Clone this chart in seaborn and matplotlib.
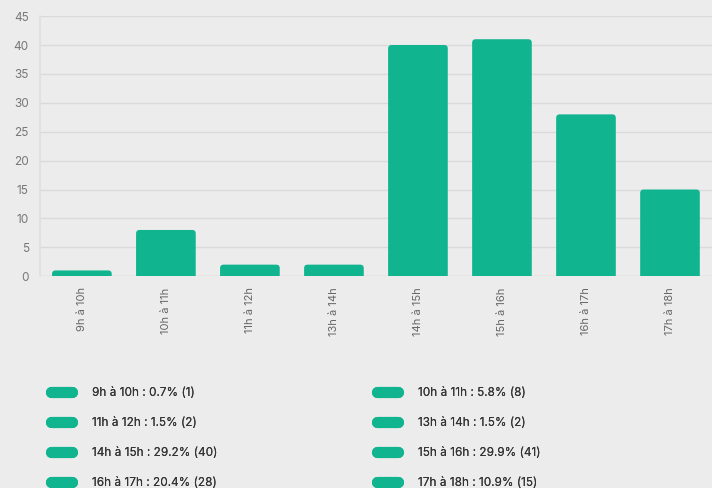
import matplotlib
matplotlib.use("Agg")
import matplotlib.pyplot as plt
from matplotlib.patches import FancyBboxPatch
from matplotlib.lines import Line2D
import seaborn as sns
import pandas as pd

# data
slots = ["9h à 10h", "10h à 11h", "11h à 12h", "13h à 14h",
         "14h à 15h", "15h à 16h", "16h à 17h", "17h à 18h"]
counts = [1, 8, 2, 2, 40, 41, 28, 15]
percents = ["0.7%", "5.8%", "1.5%", "1.5%", "29.2%", "29.9%", "20.4%", "10.9%"]

bg = "#ececec"
green = "#10b48f"
grid_c = "#dadada"

sns.set_theme(style="white")
plt.rcParams["font.family"] = ["Inter", "DejaVu Sans"]

df = pd.DataFrame({"slot": slots, "count": counts})

fig = plt.figure(figsize=(7.12, 4.88), dpi=100, facecolor=bg)
ax = fig.add_axes([0.056, 0.434, 0.944, 0.533], facecolor=bg)

sns.barplot(data=df, x="slot", y="count", color=green, width=0.71,
            saturation=1, ax=ax, zorder=3)

# swap plain bars for ones with rounded tops (bottom hidden below y=0)
r_px = 3.5
x_per_px = 8 / (0.944 * 712)
y_per_px = 45 / (0.533 * 488)
for p in list(ax.patches):
    x, w, h = p.get_x(), p.get_width(), p.get_height()
    ext = r_px * y_per_px
    fb = FancyBboxPatch((x, -ext), w, h + ext,
                        boxstyle=f"round,pad=0,rounding_size={r_px * x_per_px}",
                        mutation_aspect=y_per_px / x_per_px,
                        facecolor=green, edgecolor="none", zorder=3)
    ax.add_patch(fb)
    p.remove()

ax.set_ylim(0, 45)
ax.set_xlim(-0.5, 7.5)
ax.set_yticks(range(0, 46, 5))
ax.yaxis.grid(True, color=grid_c, lw=1)
ax.set_axisbelow(True)
for s in ["top", "right", "bottom"]:
    ax.spines[s].set_visible(False)
ax.spines["left"].set_color("#e0e0e0")
ax.axhline(0, color="#e2d6d6", lw=1, zorder=2)
ax.set_xlabel("")
ax.set_ylabel("")
ax.tick_params(axis="y", length=5, color=grid_c, labelsize=8.5, labelcolor="#777777", pad=3)
ax.tick_params(axis="x", length=0, labelsize=8, labelcolor="#666666", pad=8)
plt.setp(ax.get_xticklabels(), rotation=90)

# legend in two columns, pill-shaped markers
labels = [f"{s} : {p} ({c})" for s, p, c in zip(slots, percents, counts)]
handles = [Line2D([0], [0], color=green, lw=8, solid_capstyle="round") for _ in labels]

for col, x0 in [(0, 0.071), (1, 0.529)]:
    idx = list(range(col, 8, 2))
    leg = fig.legend([handles[i] for i in idx], [labels[i] for i in idx],
                     loc="upper left", bbox_to_anchor=(x0, 0.207),
                     frameon=False, fontsize=8.5, handlelength=1.8,
                     handletextpad=1.7, labelspacing=1.52, borderpad=0,
                     borderaxespad=0)
    for t in leg.get_texts():
        t.set_color("#333333")
    fig.add_artist(leg)

fig.savefig("out.png", dpi=100, facecolor=bg)
